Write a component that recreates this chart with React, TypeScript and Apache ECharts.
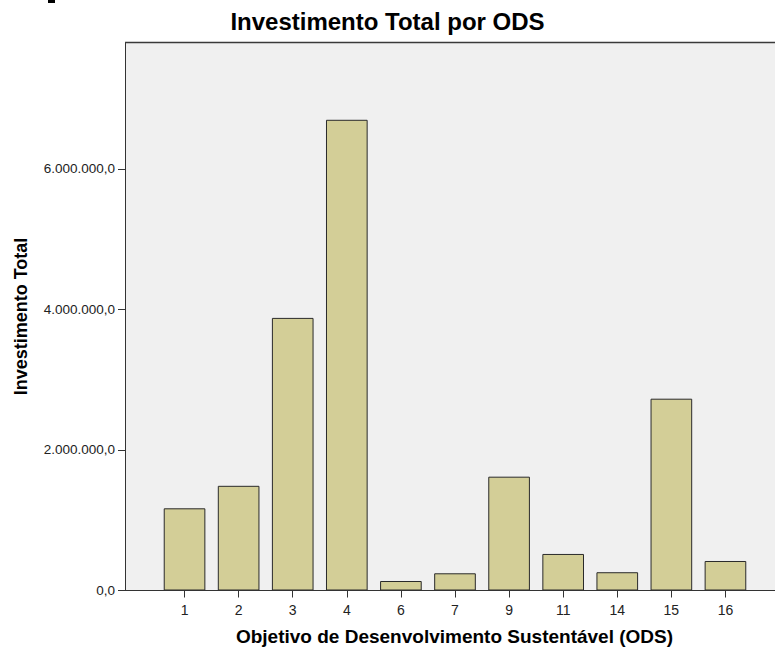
import React, { useEffect, useRef } from "react";
import * as echarts from "echarts";

const categories = ["1", "2", "3", "4", "6", "7", "9", "11", "14", "15", "16"];
const investimento = [1170000, 1490000, 3880000, 6700000, 135000, 245000, 1620000, 520000, 260000, 2730000, 420000];
const yTicks = [0, 2000000, 4000000, 6000000];
const yMax = 7800000;

const titleText = "Investimento Total por ODS";
const xName = "Objetivo de Desenvolvimento Sustentável (ODS)";
const yName = "Investimento Total";

const FONT = '"Liberation Sans", Arial, sans-serif';

const fmt = (v: number) =>
  Math.round(v).toString().replace(/\B(?=(\d{3})+(?!\d))/g, ".") + ",0";

export default function App() {
  const ref = useRef<HTMLDivElement>(null);
  useEffect(() => {
    if (!ref.current) return;
    const chart = echarts.init(ref.current, undefined, { renderer: "svg" });
    const W = 775;
    const plotLeft = 125;
    const plotTop = 42.5;
    const plotBottom = 590.5;
    const gridLeft = 157.5;
    const gridRight = 22.5;
    chart.setOption({
      animation: false,
      backgroundColor: "#ffffff",
      textStyle: { fontFamily: FONT },
      grid: {
        left: gridLeft,
        right: gridRight,
        top: plotTop,
        bottom: 647 - plotBottom,
        containLabel: false,
      },
      xAxis: {
        type: "category",
        data: categories,
        axisLine: { show: false },
        axisTick: { show: true, alignWithLabel: true, length: 7, lineStyle: { color: "#333", width: 1 } },
        axisLabel: { color: "#222", fontSize: 14, margin: 12, fontFamily: FONT },
        splitLine: { show: false },
      },
      yAxis: {
        type: "value",
        min: 0,
        max: yMax,
        interval: 2000000,
        offset: gridLeft - plotLeft,
        axisLine: { show: true, lineStyle: { color: "#333", width: 1 } },
        axisTick: { show: true, length: 7, customValues: yTicks, lineStyle: { color: "#333", width: 1 } },
        axisLabel: {
          color: "#222",
          fontSize: 13.5,
          margin: 10,
          fontFamily: FONT,
          customValues: yTicks,
          formatter: (v: number) => (yTicks.indexOf(v) >= 0 ? fmt(v) : ""),
        },
        splitLine: { show: false },
      },
      graphic: [
        {
          type: "rect",
          z: -100,
          shape: { x: plotLeft, y: plotTop, width: W - plotLeft + 5, height: plotBottom - plotTop },
          style: { fill: "#f0f0f0" },
          silent: true,
        },
        {
          type: "line",
          z: 100,
          shape: { x1: plotLeft, y1: plotTop, x2: W + 5, y2: plotTop },
          style: { stroke: "#3a3a3a", lineWidth: 1.5 },
          silent: true,
        },
        {
          type: "line",
          z: 100,
          shape: { x1: plotLeft, y1: plotBottom, x2: W + 5, y2: plotBottom },
          style: { stroke: "#333", lineWidth: 1.2 },
          silent: true,
        },
        {
          type: "rect",
          z: 100,
          shape: { x: 48, y: 0, width: 7, height: 3 },
          style: { fill: "#000" },
          silent: true,
        },
        {
          type: "text",
          z: 100,
          x: W / 2,
          y: 21.5,
          style: {
            text: titleText,
            fontSize: 24,
            fontWeight: "bold",
            fontFamily: FONT,
            fill: "#000",
            textAlign: "center",
            textVerticalAlign: "middle",
          },
        },
        {
          type: "text",
          z: 100,
          x: (plotLeft + 784) / 2,
          y: 636,
          style: {
            text: xName,
            fontSize: 19,
            fontWeight: "bold",
            fontFamily: FONT,
            fill: "#000",
            textAlign: "center",
            textVerticalAlign: "middle",
          },
        },
        {
          type: "text",
          z: 100,
          x: 21,
          y: (plotTop + plotBottom) / 2,
          rotation: Math.PI / 2,
          style: {
            text: yName,
            fontSize: 18,
            fontWeight: "bold",
            fontFamily: FONT,
            fill: "#000",
            textAlign: "center",
            textVerticalAlign: "middle",
          },
        },
      ],
      series: [
        {
          type: "bar",
          data: investimento,
          barCategoryGap: "23%",
          itemStyle: { color: "#d3ce97", borderColor: "#2a2a2a", borderWidth: 1 },
          z: 2,
        },
      ],
    });
    return () => chart.dispose();
  }, []);
  return (
    <div
      ref={ref}
      style={{ position: "fixed", left: 0, top: 0, width: 775, height: 647 }}
    />
  );
}
